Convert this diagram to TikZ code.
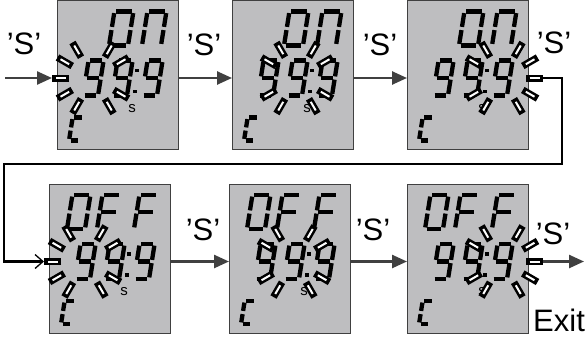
\documentclass[tikz,border=0pt]{standalone}
\usepackage{fontspec}
\setmainfont{Liberation Sans}
\usetikzlibrary{arrows.meta,calc}

\definecolor{lcdgray}{RGB}{190,190,192}
\definecolor{arrowgray}{RGB}{64,64,64}

\tikzset{
  lcd/.style={draw=black!75,fill=lcdgray,line width=0.8pt,minimum width=121pt,
    minimum height=149pt,anchor=north west,outer sep=0pt,inner sep=0pt},
  seg/.style={line width=4.3pt,line cap=butt},
  raybox/.style={line width=7pt,line cap=butt},
  raycore/.style={white,line width=2pt,line cap=butt},
  keylabel/.style={font=\fontsize{31}{33}\selectfont,inner sep=0pt},
  sunit/.style={font=\fontsize{15}{16}\selectfont,inner sep=0pt},
  garrow/.style={arrowgray,line width=2.5pt,-{Triangle[length=15pt,width=13pt]}},
  loopline/.style={black,line width=2.5pt,-{Straight Barb[length=8pt,width=14pt,line width=1.3pt]}}
}

% seven segments of one character, lower left corner at the origin
\newcommand{\segg}{1.6}
\newcommand{\sga}{(\segg,-\segh) -- (\segw-\segg,-\segh)}
\newcommand{\sgb}{(\segw,-\segh+\segg) -- (\segw,-\segh/2-\segg)}
\newcommand{\sgc}{(\segw,-\segh/2+\segg) -- (\segw,-\segg)}
\newcommand{\sgd}{(\segg,0) -- (\segw-\segg,0)}
\newcommand{\sge}{(0,-\segg) -- (0,-\segh/2+\segg)}
\newcommand{\sgf}{(0,-\segh/2-\segg) -- (0,-\segh+\segg)}
\newcommand{\sgg}{(\segg,-\segh/2) -- (\segw-\segg,-\segh/2)}

\newcommand{\lcdchar}[5]{%
  \begin{scope}[shift={(#1,#2)},xslant=0.16]
    \def\segw{#3}\def\segh{#4}
    \foreach \s in {#5}{%
      \expandafter\let\expandafter\segpath\csname sg\s\endcsname
      \draw[seg] \segpath;}
  \end{scope}}

\newcommand{\wordon}{%
  \lcdchar{52}{45}{19}{34}{a,b,c,d,e,f}
  \lcdchar{85}{45}{19}{34}{a,b,c,e,f}}
\newcommand{\wordoff}{%
  \lcdchar{18}{45}{18}{34}{a,b,c,d,e,f}
  \lcdchar{48}{45}{18}{34}{a,e,f,g}
  \lcdchar{85}{45}{18}{34}{a,e,f,g}}

\newcommand{\lcdpanel}[5]{% name, x, y, top word, centre of blinking digit
  \node[lcd] (#1) at (#2,#3) {};
  \begin{scope}[shift={(#1.north west)}]
    #4
    \lcdchar{26}{95}{15}{35}{a,b,c,d,f,g}
    \lcdchar{55}{95}{15}{35}{a,b,c,d,f,g}
    \lcdchar{85}{95}{15}{35}{a,b,c,d,f,g}
    \fill (78.3,68.3) rectangle ++(3.6,3.6);
    \fill (76,89) rectangle ++(3.6,3.6);
    \node[sunit] (#1-s) at (75,108) {s};
    \lcdchar{12}{140}{11}{23}{a,d,e,f}
    \coordinate (#1-c) at (#5,77.5);
  \end{scope}}

\newcommand{\flash}[2]{%
  \foreach \a in {#2}{%
    \draw[raybox] ($(#1)+(\a:24)$) -- ($(#1)+(\a:41)$);
    \draw[raycore] ($(#1)+(\a:27.5)$) -- ($(#1)+(\a:37.5)$);}}

\begin{document}
\begin{tikzpicture}[x=1pt,y=-1pt]
  \useasboundingbox (0,0) rectangle (585,337);

  \lcdpanel{p1}{57}{0.5}{\wordon}{36}
  \lcdpanel{p2}{232}{0.5}{\wordon}{65}
  \lcdpanel{p3}{407}{0.5}{\wordon}{95}
  \lcdpanel{p4}{49}{184}{\wordoff}{36}
  \lcdpanel{p5}{229}{184}{\wordoff}{65}
  \lcdpanel{p6}{407}{184}{\wordoff}{95}

  \flash{p1-c}{30,60,120,150,180,210,240,300,330}
  \flash{p2-c}{30,60,120,150,210,240,300,330}
  \flash{p3-c}{0,30,60,120,150,210,240,300,330}
  \flash{p4-c}{30,60,120,150,180,210,240,300,330}
  \flash{p5-c}{30,60,120,150,210,240,300,330}
  \flash{p6-c}{0,30,60,120,150,210,240,300,330}

  \coordinate (p1-w) at ($(p1-c)+(180:41)$);
  \coordinate (p3-e) at ($(p3-c)+(0:41)$);
  \coordinate (p4-w) at ($(p4-c)+(180:41)$);
  \coordinate (p6-e) at ($(p6-c)+(0:41)$);
  \coordinate (in) at (5,0);
  \coordinate (out) at (584,0);
  \coordinate (loopr) at (562,164);
  \coordinate (loopl) at (4,164);

  \draw[garrow] (in |- p1-c) -- (p1-w);
  \draw[garrow] (p1.east |- p1-c) -- (p2.west |- p1-c);
  \draw[garrow] (p2.east |- p2-c) -- (p3.west |- p2-c);
  \draw[loopline] (p3-e) -| (loopr) -- (loopl) |- (p4-w);
  \draw[garrow] (p4.east |- p4-c) -- (p5.west |- p4-c);
  \draw[garrow] (p5.east |- p5-c) -- (p6.west |- p5-c);
  \draw[garrow] (p6-e) -- (p6-e -| out);

  \node[keylabel] (k1) at (24,44) {’S’};
  \node[keylabel] (k2) at (204,45) {’S’};
  \node[keylabel] (k3) at (380,45) {’S’};
  \node[keylabel] (k4) at (554,43) {’S’};
  \node[keylabel] (k5) at (203,230) {’S’};
  \node[keylabel] (k6) at (373,230) {’S’};
  \node[keylabel] (k7) at (553,234) {’S’};
  \node[keylabel,anchor=base west] (exit) at (533,331) {Exit};
\end{tikzpicture}
\end{document}
